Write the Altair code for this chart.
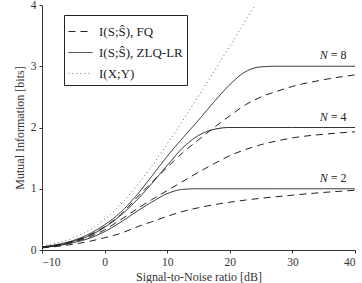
import altair as alt
import pandas as pd

# SNR grid [dB]
snr = [-10, -7.5, -5, -2.5, 0, 2.5, 5, 7.5, 10, 12.5, 15, 17.5, 20, 22.5, 25, 27.5, 30, 35, 40]

# I(S;S^), FQ (dashed)
fq_n2 = [0.035, 0.06, 0.095, 0.14, 0.2, 0.27, 0.37, 0.46, 0.55, 0.63, 0.69, 0.74, 0.78, 0.815, 0.845, 0.87, 0.895, 0.94, 0.975]
fq_n4 = [0.045, 0.075, 0.13, 0.21, 0.33, 0.49, 0.66, 0.82, 0.97, 1.12, 1.27, 1.41, 1.54, 1.64, 1.72, 1.78, 1.83, 1.89, 1.93]
fq_n8 = [0.05, 0.085, 0.145, 0.24, 0.38, 0.57, 0.84, 1.1, 1.35, 1.59, 1.8, 2.0, 2.19, 2.37, 2.5, 2.59, 2.67, 2.78, 2.86]

# I(S;S^), ZLQ-LR (solid)
zlq_n2 = [0.04, 0.07, 0.12, 0.19, 0.3, 0.45, 0.62, 0.78, 0.92, 0.99, 1.0, 1.0, 1.0, 1.0, 1.0, 1.0, 1.0, 1.0, 1.0]
zlq_n4 = [0.045, 0.08, 0.14, 0.23, 0.37, 0.56, 0.8, 1.08, 1.38, 1.67, 1.87, 1.97, 2.0, 2.0, 2.0, 2.0, 2.0, 2.0, 2.0]
zlq_n8 = [0.05, 0.09, 0.155, 0.26, 0.41, 0.61, 0.88, 1.2, 1.53, 1.83, 2.12, 2.42, 2.7, 2.91, 2.99, 3.0, 3.0, 3.0, 3.0]

# I(X;Y) (dotted)
snr_xy = [-10, -7.5, -5, -2.5, 0, 2.5, 5, 7.5, 10, 12.5, 15, 17.5, 20, 22.5, 24]
ixy = [0.069, 0.118, 0.198, 0.322, 0.5, 0.737, 1.029, 1.364, 1.73, 2.115, 2.514, 2.92, 3.329, 3.741, 3.99]

# N labels
lab_n = ["= 8", "= 4", "= 2"]
lab_y = [3.0, 2.0, 1.0]
lab_x = [35.8, 35.8, 35.8]

T_FQ = "I(S;Ŝ), FQ"
T_ZLQ = "I(S;Ŝ), ZLQ-LR"
T_XY = "I(X;Y)"

rows = []
for name, vals in [("fq2", fq_n2), ("fq4", fq_n4), ("fq8", fq_n8)]:
    for x, y in zip(snr, vals):
        rows.append({"snr": x, "mi": y, "series": name, "type": T_FQ})
for name, vals in [("z2", zlq_n2), ("z4", zlq_n4), ("z8", zlq_n8)]:
    for x, y in zip(snr, vals):
        rows.append({"snr": x, "mi": y, "series": name, "type": T_ZLQ})
for x, y in zip(snr_xy, ixy):
    rows.append({"snr": x, "mi": y, "series": "xy", "type": T_XY})
df = pd.DataFrame(rows)

labels = pd.DataFrame({"snr": lab_x, "mi": lab_y, "txt": lab_n})

FONT = "Liberation Serif"

xscale = alt.Scale(domain=[-10, 40], nice=False)
yscale = alt.Scale(domain=[0, 4], nice=False)

leg = alt.Legend(
    title=None, orient="none", legendX=22, legendY=10,
    symbolType="stroke", symbolSize=576, symbolStrokeWidth=1,
    labelFont=FONT, labelFontSize=13, labelColor="#222",
    strokeColor="#222", fillColor="white", padding=4,
    rowPadding=1, labelOffset=6,
)

lines = alt.Chart(df).mark_line(
    strokeWidth=1, interpolate="monotone"
).encode(
    x=alt.X("snr:Q", scale=xscale,
            axis=alt.Axis(values=[-10, 0, 10, 20, 30, 40], title="Signal-to-Noise ratio [dB]")),
    y=alt.Y("mi:Q", scale=yscale,
            axis=alt.Axis(values=[0, 0.5, 1, 1.5, 2, 2.5, 3, 3.5, 4], format="~g",
                          title="Mutual Information [bits]")),
    color=alt.Color("type:N", scale=alt.Scale(domain=[T_FQ, T_ZLQ, T_XY],
                                              range=["#222", "#222", "#666"]), legend=leg),
    strokeDash=alt.StrokeDash(
        "type:N",
        scale=alt.Scale(domain=[T_FQ, T_ZLQ, T_XY], range=[[7, 5], [1, 0], [1, 3]]),
        legend=leg,
    ),
    detail="series:N",
)

lab_N = alt.Chart(labels).mark_text(
    text="N", font=FONT, fontSize=12, fontStyle="italic", align="right",
    baseline="bottom", dx=-1, dy=-4, color="#222"
).encode(x="snr:Q", y="mi:Q")

lab_rest = alt.Chart(labels).mark_text(
    font=FONT, fontSize=12, align="left", baseline="bottom", dx=2, dy=-4, color="#222"
).encode(x="snr:Q", y="mi:Q", text="txt:N")

chart = alt.layer(lines, lab_N, lab_rest).properties(
    width=313, height=245,
    autosize=alt.AutoSizeParams(type="none"),
    padding={"left": 42, "top": 5, "right": 7, "bottom": 33},
).configure_view(stroke=None).configure_axis(
    grid=False, labelFont=FONT, titleFont=FONT, labelFontSize=11.5,
    titleFontSize=12, titleFontWeight="normal", labelColor="#333", titleColor="#333",
    domainColor="#333", tickColor="#333", tickSize=3, labelPadding=3,
)

chart.save("out.html", embed_options={"renderer": "svg", "actions": False})
